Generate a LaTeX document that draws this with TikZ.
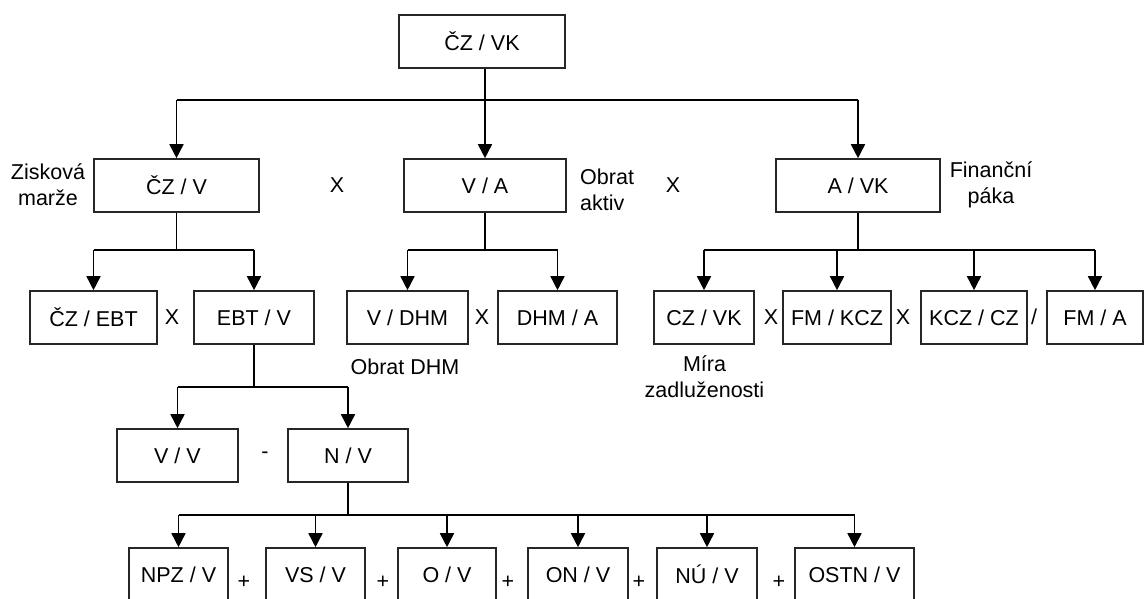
\documentclass[tikz,border=0pt]{standalone}
\usepackage{fontspec}
\setmainfont{Liberation Sans}
\usetikzlibrary{arrows.meta}
\begin{document}
\begin{tikzpicture}[x=1pt,y=-1pt,
  box/.style={draw=black!85, line width=1.6pt, minimum height=53pt, inner sep=0pt, font=\fontsize{21.5}{26}\selectfont},
  lbl/.style={font=\fontsize{21.5}{26}\selectfont, inner sep=0pt, align=center},
  arr/.style={-{Triangle[width=14pt,length=14pt]}, line width=1.6pt},
  ln/.style={line width=1.6pt}]
\useasboundingbox (0,0) rectangle (1145,599);
% level 0
\node[box, minimum width=166pt] (top) at (482,41.5) {ČZ / VK};
% level 1
\node[box, minimum width=165pt] (czv) at (176.5,185.5) {ČZ / V};
\node[box, minimum width=162pt] (va) at (485,185.5) {V / A};
\node[box, minimum width=164pt] (avk) at (858,185.5) {A / VK};
\node[lbl] (lzm) at (48,185) {Zisková\\marže};
\node[lbl, anchor=west, align=left] (loa) at (580,190) {Obrat\\aktiv};
\node[lbl] (lfp) at (991,184.5) {Finanční\\páka};
\node[lbl] (x1) at (337,185) {X};
\node[lbl] (x2) at (673,185) {X};
% level 2
\node[box, minimum width=127pt] (czebt) at (93.5,317.5) {ČZ / EBT};
\node[box, minimum width=120pt] (ebtv) at (254,317.5) {EBT / V};
\node[box, minimum width=121pt] (vdhm) at (407.5,317.5) {V / DHM};
\node[box, minimum width=119pt] (dhma) at (557.5,317.5) {DHM / A};
\node[box, minimum width=100pt] (czvk) at (704,317.5) {CZ / VK};
\node[box, minimum width=108pt] (fmkcz) at (837,317.5) {FM / KCZ};
\node[box, minimum width=106pt] (kczcz) at (974,317.5) {KCZ / CZ};
\node[box, minimum width=96pt] (fma) at (1095,317.5) {FM / A};
\node[lbl] (x3) at (172,317) {X};
\node[lbl] (x4) at (482,317) {X};
\node[lbl] (x5) at (771,317) {X};
\node[lbl] (x6) at (903,317) {X};
\node[lbl] (s1) at (1034,317) {/};
\node[lbl] (lod) at (405,367) {Obrat DHM};
\node[lbl] (lmz) at (704.5,376.5) {Míra\\zadluženosti};
% level 3
\node[box, minimum width=121pt] (vv) at (177.5,455.5) {V / V};
\node[box, minimum width=120pt] (nv) at (348,455.5) {N / V};
\node[lbl] (m1) at (265,455) {-};
% level 4
\node[box, minimum width=99pt] (npz) at (178.5,574.5) {NPZ / V};
\node[box, minimum width=99pt] (vs) at (315.5,574.5) {VS / V};
\node[box, minimum width=98pt] (ov) at (447,574.5) {O / V};
\node[box, minimum width=100pt] (on) at (578,574.5) {ON / V};
\node[box, minimum width=100pt] (nu) at (707,574.5) {NÚ / V};
\node[box, minimum width=119pt] (ostn) at (854.5,574.5) {OSTN / V};
\node[lbl] (p1) at (244,582) {+};
\node[lbl] (p2) at (383,582) {+};
\node[lbl] (p3) at (508,582) {+};
\node[lbl] (p4) at (639,582) {+};
\node[lbl] (p5) at (779,582) {+};
% bus coordinates
\coordinate (b1) at (0,100);
\coordinate (b2) at (0,250);
\coordinate (b3) at (0,387);
\coordinate (b4) at (0,515);
% connectors level 0 -> 1
\draw[ln] (top.south -| va.north) -- (va.north |- b1);
\draw[ln] (czv.north |- b1) -- (avk.north |- b1);
\draw[arr] (czv.north |- b1) -- (czv.north);
\draw[arr] (va.north |- b1) -- (va.north);
\draw[arr] (avk.north |- b1) -- (avk.north);
% czv -> czebt, ebtv
\draw[ln] (czv.south) -- (czv.south |- b2);
\draw[ln] (czebt.north |- b2) -- (ebtv.north |- b2);
\draw[arr] (czebt.north |- b2) -- (czebt.north);
\draw[arr] (ebtv.north |- b2) -- (ebtv.north);
% va -> vdhm, dhma
\draw[ln] (va.south) -- (va.south |- b2);
\draw[ln] (vdhm.north |- b2) -- (dhma.north |- b2);
\draw[arr] (vdhm.north |- b2) -- (vdhm.north);
\draw[arr] (dhma.north |- b2) -- (dhma.north);
% avk -> czvk, fmkcz, kczcz, fma
\draw[ln] (avk.south) -- (avk.south |- b2);
\draw[ln] (czvk.north |- b2) -- (fma.north |- b2);
\draw[arr] (czvk.north |- b2) -- (czvk.north);
\draw[arr] (fmkcz.north |- b2) -- (fmkcz.north);
\draw[arr] (kczcz.north |- b2) -- (kczcz.north);
\draw[arr] (fma.north |- b2) -- (fma.north);
% ebtv -> vv, nv
\draw[ln] (ebtv.south) -- (ebtv.south |- b3);
\draw[ln] (vv.north |- b3) -- (nv.north |- b3);
\draw[arr] (vv.north |- b3) -- (vv.north);
\draw[arr] (nv.north |- b3) -- (nv.north);
% nv -> bottom row
\draw[ln] (nv.south) -- (nv.south |- b4);
\draw[ln] (npz.north |- b4) -- (ostn.north |- b4);
\foreach \n in {npz,vs,ov,on,nu,ostn} {\draw[arr] (\n.north |- b4) -- (\n.north);}
\end{tikzpicture}
\end{document}
